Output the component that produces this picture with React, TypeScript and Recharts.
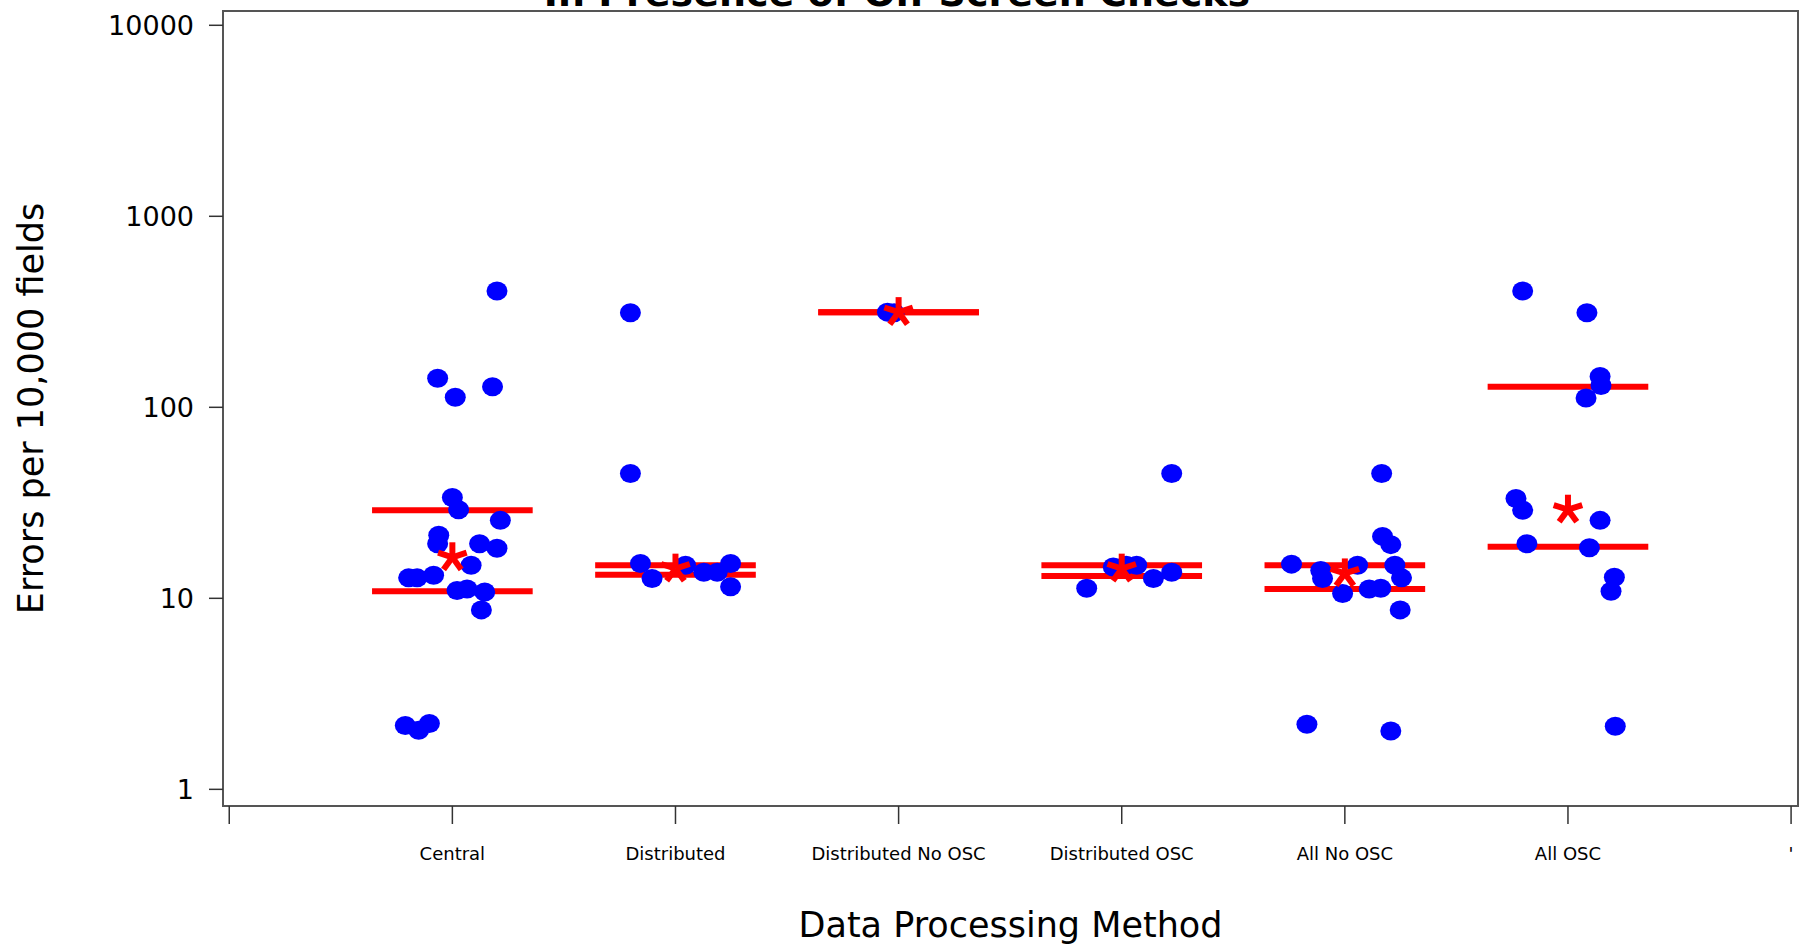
import React from "react";
import { ScatterChart, Scatter, XAxis, YAxis, ReferenceLine, ReferenceArea, Label } from "recharts";

const FONT = "'DejaVu Sans', Verdana, sans-serif";
const BLUE = "#0000ff";
const RED = "#ff0000";

// x tick labels, index = position on the x axis
const tickLabels = ["", "Central", "Distributed", "Distributed No OSC", "Distributed OSC", "All No OSC", "All OSC", "'"];
const yTicks = [1, 10, 100, 1000, 10000];

// errors per 10,000 fields, with the horizontal jitter
const centralValues = [406, 142, 113, 128, 33.7, 29.1, 25.6, 21.4, 19.3, 19.3, 18.3, 14.9, 12.8, 12.8, 13.2, 11.0, 11.2, 10.8, 8.7, 2.16, 2.04, 2.21];
const centralJitter = [0.2, -0.066, 0.013, 0.18, 0, 0.028, 0.215, -0.061, -0.066, 0.122, 0.2, 0.084, -0.196, -0.158, -0.084, 0.021, 0.066, 0.145, 0.13, -0.211, -0.151, -0.103];

const distributedValues = [313, 45, 15.2, 12.7, 14.9, 13.7, 13.7, 15.2, 11.5];
const distributedJitter = [-0.202, -0.202, -0.157, -0.105, 0.045, 0.127, 0.187, 0.247, 0.247];

const distNoOscValues = [315, 313];
const distNoOscJitter = [-0.05, -0.02];

const distOscValues = [45, 11.3, 14.6, 14.9, 12.7, 13.7, 14.9];
const distOscJitter = [0.224, -0.157, -0.038, 0.067, 0.142, 0.224, 0.02];

const allNoOscValues = [2.19, 2.02, 45, 21.1, 19.1, 15.1, 14.0, 12.7, 14.9, 10.6, 11.2, 11.3, 14.9, 12.8, 8.7];
const allNoOscJitter = [-0.17, 0.206, 0.165, 0.169, 0.206, -0.239, -0.108, -0.1, 0.057, -0.01, 0.109, 0.161, 0.224, 0.254, 0.248];

const allOscValues = [406, 313, 145, 130, 112, 33.3, 28.9, 25.6, 19.3, 18.4, 12.9, 10.9, 2.14];
const allOscJitter = [-0.203, 0.085, 0.144, 0.148, 0.081, -0.233, -0.203, 0.144, -0.184, 0.096, 0.208, 0.193, 0.212];

// summary per group
const lowerQuartiles = [10.9, 13.3, 315, 13.1, 11.2, 18.6];
const upperQuartiles = [28.9, 14.9, 315, 14.9, 14.9, 128];
const means = [16.4, 14.3, 315, 14.3, 13.5, 29.1];

const groupValues = [centralValues, distributedValues, distNoOscValues, distOscValues, allNoOscValues, allOscValues];
const groupJitter = [centralJitter, distributedJitter, distNoOscJitter, distOscJitter, allNoOscJitter, allOscJitter];

const points = groupValues.flatMap((vals, g) => vals.map((v, k) => ({ x: g + 1 + groupJitter[g][k], y: v })));
const meanPoints = means.map((m, g) => ({ x: g + 1, y: m }));

const X_DOMAIN: [number, number] = [-0.028, 7.031];
const Y_DOMAIN: [number, number] = [0.818, 11880];
const HALF = 0.36;

const Dot = (props: any) => <ellipse cx={props.cx} cy={props.cy} rx={10.5} ry={9.5} fill={BLUE} />;

const Star = (props: any) => {
  const { cx, cy } = props;
  const arms = [-90, -18, 54, 126, 198];
  return (
    <g>
      {arms.map((a) => {
        const r = (a * Math.PI) / 180;
        return <line key={a} x1={cx} y1={cy} x2={cx + 15 * Math.cos(r)} y2={cy + 15 * Math.sin(r)} stroke={RED} strokeWidth={6} />;
      })}
    </g>
  );
};

export default function App() {
  return (
    <div style={{ position: "absolute", left: 0, top: 0 }}>
      <ScatterChart width={1804} height={946} margin={{ top: 11, right: 6, bottom: 0, left: 0 }}>
        <text x={897} y={6} textAnchor="middle" fontFamily={FONT} fontWeight="bold" fontSize={38} fill="#000">
          In Presence of On-Screen Checks
        </text>
        <XAxis
          type="number"
          dataKey="x"
          domain={X_DOMAIN}
          allowDataOverflow
          ticks={[0, 1, 2, 3, 4, 5, 6, 7]}
          interval={0}
          tickFormatter={(v: number) => tickLabels[v] ?? ""}
          height={140}
          axisLine={false}
          tickSize={18}
          tickMargin={23}
          tickLine={{ stroke: "#333", strokeWidth: 1.5 }}
          tick={{ fontSize: 18, fill: "#000", fontFamily: FONT }}
        >
          <Label value="Data Processing Method" position="insideBottom" offset={9} fontSize={35} fill="#000" fontFamily={FONT} />
        </XAxis>
        <YAxis
          type="number"
          dataKey="y"
          scale="log"
          domain={Y_DOMAIN}
          allowDataOverflow
          ticks={yTicks}
          interval={0}
          width={223}
          axisLine={false}
          tickSize={14}
          tickMargin={15}
          tickLine={{ stroke: "#333", strokeWidth: 1.5 }}
          tick={{ fontSize: 27, fill: "#000", fontFamily: FONT }}
        >
          <Label
            value="Errors per 10,000 fields"
            angle={-90}
            position="insideLeft"
            offset={31}
            fontSize={35}
            fill="#000"
            fontFamily={FONT}
            style={{ textAnchor: "middle" }}
          />
        </YAxis>
        <ReferenceArea
          x1={X_DOMAIN[0]}
          x2={X_DOMAIN[1]}
          y1={Y_DOMAIN[0]}
          y2={Y_DOMAIN[1]}
          fill="none"
          stroke="#555"
          strokeWidth={2}
          ifOverflow="visible"
        />
        <Scatter data={points} shape={Dot} isAnimationActive={false} />
        {means.map((_, g) =>
          [lowerQuartiles[g], upperQuartiles[g]].map((q, j) => (
            <ReferenceLine
              key={`q${g}-${j}`}
              segment={[
                { x: g + 1 - HALF, y: q },
                { x: g + 1 + HALF, y: q },
              ]}
              stroke={RED}
              strokeWidth={6}
              ifOverflow="visible"
            />
          ))
        )}
        <Scatter data={meanPoints} shape={Star} isAnimationActive={false} />
      </ScatterChart>
    </div>
  );
}
